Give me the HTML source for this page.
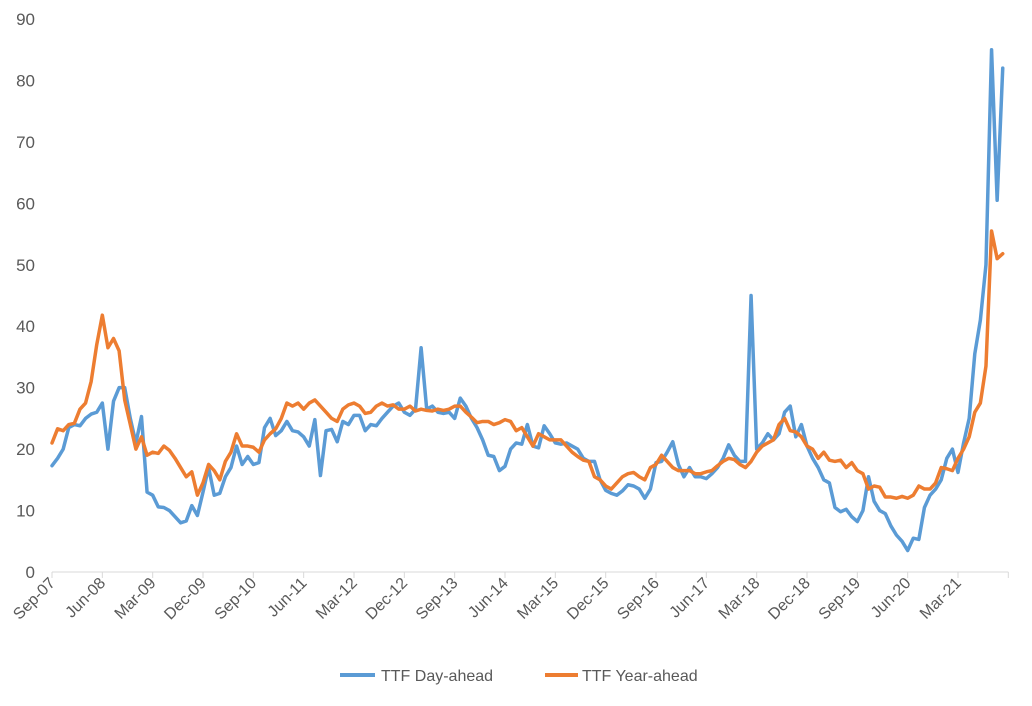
<!DOCTYPE html>
<html><head><meta charset="utf-8"><style>
body{margin:0;background:#fff;}
svg text{font-family:"Liberation Sans",Arial,sans-serif;fill:#595959;}
</style></head><body>
<svg id="chart" width="1032" height="701" viewBox="0 0 1032 701" xmlns="http://www.w3.org/2000/svg">
<g id="yaxis"></g>
<g id="xaxis"></g>
<g id="series"></g>
<g>
  <g>
    <line x1="340" y1="675" x2="375" y2="675" stroke="#5b9bd5" stroke-width="4"/>
    <text x="381" y="681" font-size="16">TTF Day-ahead</text>
  </g>
  <g>
    <line x1="545" y1="675" x2="578" y2="675" stroke="#ed7d31" stroke-width="4"/>
    <text x="582" y="681" font-size="16">TTF Year-ahead</text>
  </g>
</g>
</svg>
<script>
const xLabels=["Sep-07","Jun-08","Mar-09","Dec-09","Sep-10","Jun-11","Mar-12","Dec-12","Sep-13","Jun-14","Mar-15","Dec-15","Sep-16","Jun-17","Mar-18","Dec-18","Sep-19","Jun-20","Mar-21"];
const yTicks=[0,10,20,30,40,50,60,70,80,90];
const dayAhead=[
17.3,18.5,20,23.5,24,23.8,25,25.7,26,
27.5,20,27.8,30,30,25,21,25.3,13,
12.5,10.6,10.5,10,9,8,8.3,10.8,9.2,
13,17,12.5,12.8,15.5,17,20.5,17.5,18.8,
17.5,17.8,23.5,25,22.2,23,24.5,23,22.8,
22,20.5,24.8,15.7,23,23.2,21.2,24.5,24,
25.5,25.5,23,24,23.8,25,26,27,27.5,
26,25.5,26.5,36.5,26.5,27,26,25.8,26,
25,28.3,27,25,23.5,21.5,19,18.8,16.5,
17.2,20,21,20.8,24,20.5,20.2,23.8,22.5,
21,20.8,21,20.5,20,18.5,18,18,15,
13.3,12.8,12.5,13.2,14.2,14,13.5,12,13.5,
17.8,18,19.5,21.2,17.5,15.5,17,15.5,15.5,
15.2,16,17,18.5,20.7,19,18,18,45,
20,21,22.5,21.5,22.5,26,27,22,24,
20.5,18.5,17,15,14.5,10.5,9.8,10.2,9,
8.2,10,15.5,11.5,10,9.5,7.5,6,5,
3.5,5.5,5.3,10.5,12.5,13.5,15,18.5,20,
16.2,21,25,35.5,41,50,85,60.5,82];
const yearAhead=[
21,23.3,23,24,24.2,26.5,27.5,31,37,
41.8,36.5,38,36,28,24,20,22,19,
19.5,19.3,20.5,19.8,18.5,17,15.5,16.3,12.5,
14.5,17.5,16.5,15,18,19.5,22.5,20.5,20.5,
20.3,19.5,21.5,22.5,23.3,25,27.5,27,27.5,
26.5,27.5,28,27,26,25,24.5,26.5,27.2,
27.5,27,25.8,26,27,27.5,27,27.2,26.5,
26.5,27,26.2,26.5,26.3,26.2,26.5,26.3,26.5,
27,27,26,25.2,24.3,24.5,24.5,24,24.3,
24.8,24.5,23,23.5,22,20.5,22.5,22,21.5,
21.5,21.5,20.5,19.5,18.8,18.2,18,15.5,15,
14,13.5,14.5,15.5,16,16.2,15.5,15,17,
17.5,19,18,17,16.5,16.5,16.5,16,16,
16.3,16.5,17.3,18,18.5,18.3,17.5,17,18,
19.5,20.5,21,21.5,24,25,23,22.8,22,
20.5,20,18.5,19.5,18.2,18,18.2,17,17.8,
16.5,16,13.5,14,13.8,12.2,12.2,12,12.3,
12,12.5,14,13.5,13.5,14.5,17,16.8,16.5,
18.5,20,22,26,27.5,33.5,55.5,51,51.8];

const NS="http://www.w3.org/2000/svg";
const x0=52, step=(958-52)/162, yBase=572, yTop=19;
const xs=i=>x0+i*step;
const ys=v=>yBase-(v/90)*(yBase-yTop);
function mk(tag,attrs,parent){const e=document.createElementNS(NS,tag);for(const k in attrs)e.setAttribute(k,attrs[k]);parent.appendChild(e);return e;}
const yg=document.getElementById('yaxis'),xg=document.getElementById('xaxis'),sg=document.getElementById('series');
yTicks.forEach(v=>{
  const t=mk('text',{x:35,y:ys(v)+6,'text-anchor':'end','font-size':'17'},yg);
  
  
  t.textContent=v;
});
const ax=mk('line',{x1:x0,y1:yBase,x2:xs(171),y2:yBase,stroke:'#d9d9d9','stroke-width':1},xg);


for(let k=0;k<=xLabels.length;k++){
  const x=xs(k*9);
  const tk=mk('line',{x1:x,y1:yBase,x2:x,y2:yBase+6,stroke:'#d9d9d9','stroke-width':1},xg);
  
  
  if(k<xLabels.length){
    const t=mk('text',{x:x+4,y:yBase+12,'text-anchor':'end','font-size':'16',transform:`rotate(-45 ${x+4} ${yBase+12})`},xg);
    
    
    t.textContent=xLabels[k];
  }
}
function line(data,color,name){
  const d=data.map((v,i)=>(i?'L':'M')+xs(i).toFixed(2)+','+ys(v).toFixed(2)).join('');
  const p=mk('path',{d:d,fill:'none',stroke:color,'stroke-width':3.5,'stroke-linejoin':'round','stroke-linecap':'round'},sg);
  
  
}
line(dayAhead,'#5b9bd5','day-ahead-line');
line(yearAhead,'#ed7d31','year-ahead-line');
</script>
</body></html>
